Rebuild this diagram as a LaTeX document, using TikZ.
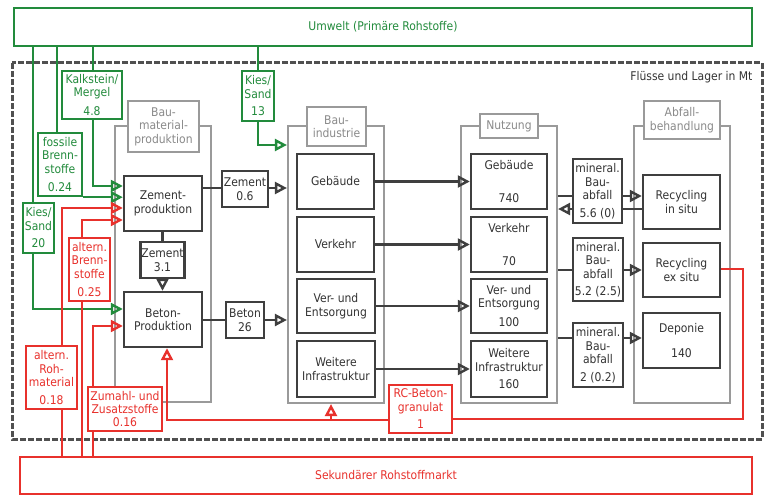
\documentclass[tikz,border=0pt]{standalone}
\usepackage{fontspec}
\setmainfont{DejaVu Sans Condensed}
\usetikzlibrary{arrows.meta}
\definecolor{cgreen}{HTML}{228B3C}
\definecolor{cred}{HTML}{E8312C}
\definecolor{cdark}{HTML}{3F3F3F}
\definecolor{ctext}{HTML}{333333}
\definecolor{cgrp}{HTML}{9A9A9A}
\definecolor{cgrptext}{HTML}{8A8A8A}
\definecolor{cdash}{HTML}{505050}
\newcommand\dfont{\fontsize{12}{13.5}\selectfont}
\tikzset{
  box/.style={draw=cdark, line width=2.4pt, fill=white, text=ctext, align=center, inner sep=1pt, font=\dfont},
  gbox/.style={box, draw=cgreen, text=cgreen},
  rbox/.style={box, draw=cred, text=cred},
  grp/.style={draw=cgrp, line width=2.2pt, inner sep=0pt},
  lbl/.style={box, line width=2.2pt, draw=cgrp, text=cgrptext},
  conn/.style={line width=2.4pt, draw=cdark},
  gconn/.style={conn, draw=cgreen},
  rconn/.style={conn, draw=cred},
  arr/.style={-{Triangle[open,length=12pt,width=12pt]}},
  sz/.style 2 args={minimum width=#1pt, minimum height=#2pt}
}
\begin{document}
\begin{tikzpicture}[x=1pt,y=-1pt]
\useasboundingbox (0,0) rectangle (768,495);
% outer boxes
\node[gbox, sz={738}{38}] (umwelt) at (383,27) {Umwelt (Primäre Rohstoffe)};
\node[rbox, sz={732}{37}] (sek) at (386,475.5) {Sekundärer Rohstoffmarkt};
\draw[draw=cdash, line width=3pt, dash pattern=on 6pt off 2pt] (12,63) rectangle (762,439);
\node[anchor=east, text=ctext, font=\dfont] (fl) at (756,77) {Flüsse und Lager in Mt};
% groups
\node[grp, sz={96}{276}] (grpB) at (163,264) {};
\node[grp, sz={96}{277}] (grpI) at (336,264.5) {};
\node[grp, sz={96}{277}] (grpN) at (509,264.5) {};
\node[grp, sz={96}{277}] (grpA) at (682,264.5) {};
\node[lbl, sz={71}{51}] (lblB) at (163.5,126.5) {Bau-\\material-\\produktion};
\node[lbl, sz={59}{39}] (lblI) at (336.5,126.5) {Bau-\\industrie};
\node[lbl, sz={58}{24}] (lblN) at (509,126) {Nutzung};
\node[lbl, sz={76}{38}] (lblA) at (682,120) {Abfall-\\behandlung};
% production
\node[box, sz={78}{55}] (zp) at (163,203.5) {Zement-\\produktion};
\node[box, sz={78}{55}] (bp) at (163,319.5) {Beton-\\Produktion};
\node[box, sz={46}{36}] (z06) at (245,189) {Zement\\[1pt]0.6};
\node[box, sz={43}{36}] (z31) at (162.5,260) {Zement\\[1pt]3.1};
\node[box, sz={38}{36}] (b26) at (245,320) {Beton\\[1pt]26};
% Bauindustrie
\node[box, sz={77}{55}] (iG) at (335.5,181.5) {Gebäude};
\node[box, sz={77}{55}] (iV) at (335.5,244.5) {Verkehr};
\node[box, sz={78}{54}] (iE) at (336,306) {Ver- und\\Entsorgung};
\node[box, sz={78}{56}] (iW) at (336,369) {Weitere\\Infrastruktur};
% Nutzung
\node[box, sz={76}{55}] (nG) at (509,181.5) {Gebäude\\[20pt]740};
\node[box, sz={76}{55}] (nV) at (509,244.5) {Verkehr\\[19pt]70};
\node[box, sz={76}{54}] (nE) at (509,306) {Ver- und\\Entsorgung\\[5pt]100};
\node[box, sz={76}{56}] (nW) at (509,369) {Weitere\\Infrastruktur\\[4pt]160};
% Abfall
\node[box, sz={77}{54}] (aR1) at (681.5,202) {Recycling\\in situ};
\node[box, sz={77}{54}] (aR2) at (681.5,270) {Recycling\\ex situ};
\node[box, sz={77}{55}] (aD) at (681.5,340.5) {Deponie\\[11pt]140};
% mineral
\node[box, sz={49}{64}] (m1) at (597.5,191) {mineral.\\Bau-\\abfall\\[4pt]5.6 (0)};
\node[box, sz={50}{63}] (m2) at (598,269.5) {mineral.\\Bau-\\abfall\\[4pt]5.2 (2.5)};
\node[box, sz={50}{64}] (m3) at (598,355) {mineral.\\Bau-\\abfall\\[4pt]2 (0.2)};
% green inputs
\node[gbox, sz={60}{48}] (gK) at (92,95) {Kalkstein/\\Mergel\\[5pt]4.8};
\node[gbox, sz={44}{63}] (gF) at (60,164.5) {fossile\\Brenn-\\stoffe\\[5pt]0.24};
\node[gbox, sz={31}{50}] (gS20) at (38.5,228) {Kies/\\Sand\\[4pt]20};
\node[gbox, sz={32}{50}] (gS13) at (258,96) {Kies/\\Sand\\[4pt]13};
% red inputs
\node[rbox, sz={41}{63}] (rB) at (89.5,269.5) {altern.\\Brenn-\\stoffe\\[5pt]0.25};
\node[rbox, sz={51}{63}] (rR) at (51.5,377.5) {altern.\\Roh-\\material\\[4pt]0.18};
\node[rbox, sz={74}{44}] (rZ) at (125,409) {Zumahl- und\\Zusatzstoffe\\[-1pt]0.16};
\node[rbox, sz={63}{48}] (rRC) at (420.5,409) {RC-Beton-\\granulat\\[4pt]1};
% green connectors
\draw[gconn] (umwelt.south -| 93,0) -- (gK.north -| 93,0);
\draw[gconn, arr] (gK.south -| 93,0) |- (zp.west |- 0,186);
\draw[gconn] (umwelt.south -| 57,0) -- (gF.north -| 57,0);
\draw[gconn, arr] (gF.south east) -- (zp.west |- gF.south east);
\draw[gconn] (umwelt.south -| 33,0) -- (gS20.north -| 33,0);
\draw[gconn, arr] (gS20.south -| 33,0) |- (bp.west |- 0,309);
\draw[gconn] (umwelt.south -| gS13.north) -- (gS13.north);
\draw[gconn, arr] (gS13.south) |- (grpI.west |- 0,145);
% dark connectors
\draw[conn] (zp.east |- 0,188) -- (z06.west |- 0,188);
\draw[conn, arr] (z06.east |- 0,188) -- (grpI.west |- 0,188);
\draw[conn] (zp.south -| z31.north) -- (z31.north);
\draw[conn, arr] (z31.south) -- (bp.north -| z31.south);
\draw[conn] (bp.east |- 0,320) -- (b26.west |- 0,320);
\draw[conn, arr] (b26.east |- 0,320) -- (grpI.west |- 0,320);
\draw[conn, arr] (iG.east) -- (nG.west);
\draw[conn, arr] (iV.east) -- (nV.west);
\draw[conn, arr] (iE.east) -- (nE.west);
\draw[conn, arr] (iW.east) -- (nW.west);
\draw[conn] (grpN.east |- 0,196) -- (m1.west |- 0,196);
\draw[conn, arr] (m1.east |- 0,196) -- (aR1.west |- 0,196);
\draw[conn] (aR1.west |- 0,209) -- (m1.east |- 0,209);
\draw[conn, arr] (m1.west |- 0,209) -- (grpN.east |- 0,209);
\draw[conn] (grpN.east |- 0,270) -- (m2.west |- 0,270);
\draw[conn, arr] (m2.east |- 0,270) -- (aR2.west |- 0,270);
\draw[conn] (grpN.east |- 0,338) -- (m3.west |- 0,338);
\draw[conn, arr] (m3.east |- 0,338) -- (aD.west |- 0,338);
% red connectors
\draw[rconn] (sek.north -| 62,0) -- (rR.south -| 62,0);
\draw[rconn, arr] (rR.north -| 62,0) |- (zp.west |- 0,208);
\draw[rconn] (sek.north -| 82,0) -- (rB.south -| 82,0);
\draw[rconn, arr] (rB.north -| 82,0) |- (zp.west |- 0,220);
\draw[rconn] (sek.north -| 93,0) -- (rZ.south -| 93,0);
\draw[rconn, arr] (rZ.north -| 93,0) |- (bp.west |- 0,326);
\coordinate (rcCorner) at (743,419);
\draw[rconn] (aR2.east |- 0,269) -| (rcCorner) -- (rRC.east |- rcCorner);
\coordinate (rcBranch) at (331,420);
\draw[rconn, arr] (rRC.west |- 0,420) -| ([xshift=4pt]bp.south);
\draw[rconn, arr] (rcBranch) -- (grpI.south -| rcBranch);
\end{tikzpicture}
\end{document}
